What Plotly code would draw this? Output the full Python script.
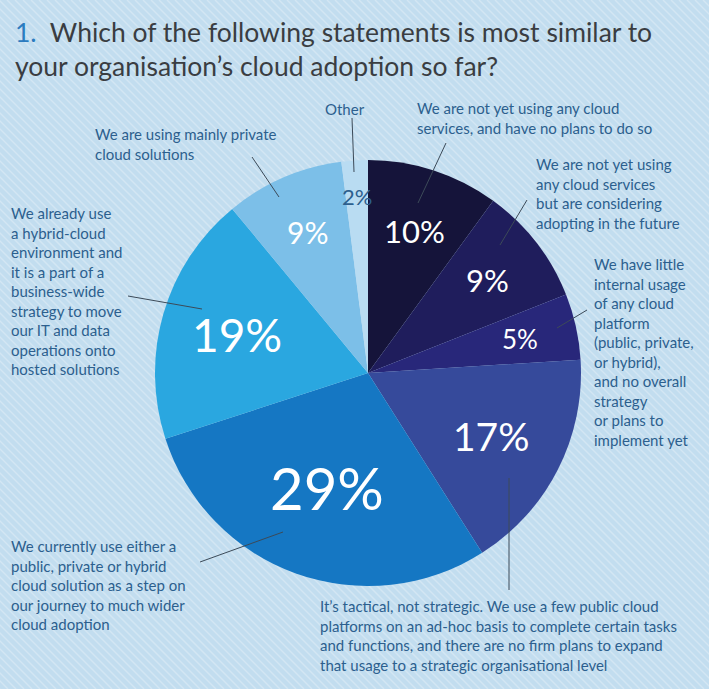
import math
import plotly.graph_objects as go

W, H = 709, 689

# ---- data ----
categories = [
    "We are not yet using any cloud services, and have no plans to do so",
    "We are not yet using any cloud services but are considering adopting in the future",
    "We have little internal usage of any cloud platform (public, private, or hybrid), and no overall strategy or plans to implement yet",
    "It's tactical, not strategic. We use a few public cloud platforms on an ad-hoc basis to complete certain tasks and functions, and there are no firm plans to expand that usage to a strategic organisational level",
    "We currently use either a public, private or hybrid cloud solution as a step on our journey to much wider cloud adoption",
    "We already use a hybrid-cloud environment and it is a part of a business-wide strategy to move our IT and data operations onto hosted solutions",
    "We are using mainly private cloud solutions",
    "Other",
]
values = [10, 9, 5, 17, 29, 19, 9, 2]
pct_labels = ["10%", "9%", "5%", "17%", "29%", "19%", "9%", "2%"]

# ---- style ----
colors = ["#15143a", "#1f1d5c", "#28277a", "#364a9b", "#1577c3", "#2aa7e0", "#7cbfe8", "#b9dcf2"]
pct_sizes = [31, 31, 26, 39, 58, 46, 30, 22]
pct_colors = ["white"] * 7 + ["#2c5f8e"]
pct_rfrac = [0.70, 0.71, 0.73, 0.65, 0.57, 0.64, 0.72, 0.83]
FONT = "Lato, Roboto, sans-serif"
PCT_FONT = "Lato, Roboto, sans-serif"
LABEL_COLOR = "#2c5f8e"
BG = "#c2ddef"

cx_px, cy_px, r_px = 368, 373, 213


def X(px):
    return px / W


def Y(py):
    return 1 - py / H


fig = go.Figure()
fig.add_trace(go.Pie(
    labels=categories,
    values=values,
    sort=False,
    direction="clockwise",
    rotation=0,
    marker=dict(colors=colors, line=dict(width=0)),
    textinfo="none",
    hoverinfo="label+percent",
    showlegend=False,
    domain=dict(x=[X(cx_px - r_px), X(cx_px + r_px)], y=[Y(cy_px + r_px), Y(cy_px - r_px)]),
))

annotations = []
# percentage labels placed at slice mid-angles (computed from values)
total = sum(values)
cum = 0
for v, t, s, c, rf in zip(values, pct_labels, pct_sizes, pct_colors, pct_rfrac):
    mid = (cum + v / 2) / total * 2 * math.pi
    cum += v
    px = cx_px + rf * r_px * math.sin(mid)
    py = cy_px - rf * r_px * math.cos(mid)
    annotations.append(dict(x=X(px), y=Y(py), xref="paper", yref="paper", text=t,
                            showarrow=False, font=dict(family=PCT_FONT, size=s, color=c),
                            xanchor="center", yanchor="middle"))

# title
annotations.append(dict(
    x=X(13), y=Y(14), xref="paper", yref="paper", xanchor="left", yanchor="top", align="left",
    showarrow=False,
    text="<span style='color:#2b7bbf'>1.</span>  Which of the following statements is most similar to<br>your organisation’s cloud adoption so far?",
    font=dict(family=FONT, size=26.5, color="#3a3d42"),
))

# category labels
cat_text = [
    ("We are not yet using any cloud<br>services, and have no plans to do so", 415, 97, "left"),
    ("We are not yet using<br>any cloud services<br>but are considering<br>adopting in the future", 534, 153, "left"),
    ("We have little<br>internal usage<br>of any cloud<br>platform<br>(public, private,<br>or hybrid),<br>and no overall<br>strategy<br>or plans to<br>implement yet", 592, 253, "left"),
    ("It’s tactical, not strategic. We use a few public cloud<br>platforms on an ad-hoc basis to complete certain tasks<br>and functions, and there are no firm plans to expand<br>that usage to a strategic organisational level", 318, 595, "left"),
    ("We currently use either a<br>public, private or hybrid<br>cloud solution as a step on<br>our journey to much wider<br>cloud adoption", 9, 535, "left"),
    ("We already use<br>a hybrid-cloud<br>environment and<br>it is a part of a<br>business-wide<br>strategy to move<br>our IT and data<br>operations onto<br>hosted solutions", 9, 202, "left"),
    ("We are using mainly private<br>cloud solutions", 93, 123, "left"),
    ("Other", 345, 98, "center"),
]
for txt, x, y, anc in cat_text:
    annotations.append(dict(x=X(x), y=Y(y), xref="paper", yref="paper", text=txt, showarrow=False,
                            xanchor=anc, yanchor="top", align=anc,
                            font=dict(family=FONT, size=15, color=LABEL_COLOR)))

shapes = []
# background stripes
for k in range(-H, W + 10, 8):
    shapes.append(dict(type="line", xref="paper", yref="paper", layer="below",
                       x0=X(k), y0=Y(0), x1=X(k + H), y1=Y(H),
                       line=dict(color="rgba(255,255,255,0.28)", width=1.5)))

# leader lines
leaders = [
    (352, 118, 354, 172),
    (446, 143, 418, 203),
    (527, 200, 500, 245),
    (587, 310, 557, 328),
    (509, 478, 509, 590),
    (283, 532, 200, 562),
    (128, 296, 202, 309),
    (252, 157, 279, 197),
]
for x0, y0, x1, y1 in leaders:
    shapes.append(dict(type="line", xref="paper", yref="paper", layer="above",
                       x0=X(x0), y0=Y(y0), x1=X(x1), y1=Y(y1),
                       line=dict(color="#3c4a58", width=1)))

fig.update_layout(
    width=W, height=H,
    margin=dict(l=0, r=0, t=0, b=0),
    paper_bgcolor=BG, plot_bgcolor=BG,
    annotations=annotations,
    shapes=shapes,
)

fig.write_html("out.html", config={"displayModeBar": False},
               post_script="document.body.style.margin='0';document.body.style.overflow='hidden';")
